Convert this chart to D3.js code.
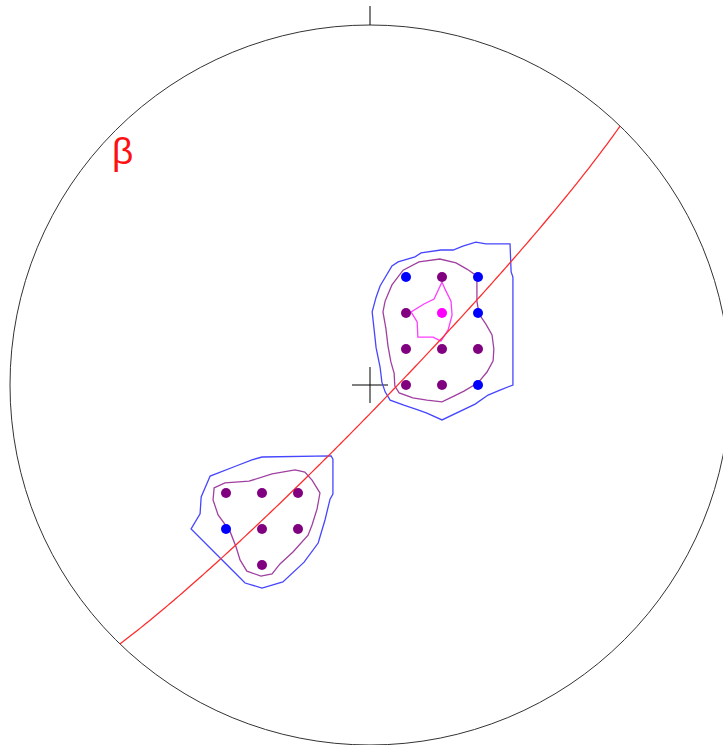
<!DOCTYPE html>
<meta charset="utf-8">
<style>
body { margin: 0; background: #fff; }
.primitive { fill: none; stroke: #333; stroke-width: 1px; }
.tick, .centre { stroke: #000; stroke-width: 1px; }
.beta-line { fill: none; stroke: #ff2a2a; stroke-width: 1.25px; }
.contour { fill: none; stroke-width: 1.3px; }
.beta-label { font: 37px "Liberation Sans", sans-serif; fill: #ff1010; }
</style>
<svg width="723" height="745"></svg>
<script src="https://d3js.org/d3.v7.min.js"></script>
<script>

// net units: 10 = primitive radius, y up
var poles = [
  [1, 3, "low"], [2, 3, "mid"], [3, 3, "low"],
  [1, 2, "mid"], [2, 2, "high"], [3, 2, "low"],
  [1, 1, "mid"], [2, 1, "mid"], [3, 1, "mid"],
  [1, 0, "mid"], [2, 0, "mid"], [3, 0, "low"],
  [-4, -3, "mid"], [-3, -3, "mid"], [-2, -3, "mid"],
  [-4, -4, "low"], [-3, -4, "mid"], [-2, -4, "mid"],
  [-3, -5, "mid"]
];

var contourLow1 = [[2.94,3.97],[3.22,3.92],[3.89,3.92],[3.92,3.14],[3.97,3.00],[3.97,0],[3.61,-0.14],[3.28,-0.28],
  [2.92,-0.53],[2.00,-0.97],[1.58,-0.78],[1.33,-0.69],[0.94,-0.56],[0.56,-0.42],[0.42,-0.19],[0.33,0.08],
  [0.28,0.50],[0.17,1.03],[0.06,2.03],[0.17,2.44],[0.28,2.75],[0.61,3.31],[0.78,3.42],[1.25,3.56],
  [1.42,3.67],[1.97,3.75],[2.31,3.75],[2.58,3.86]];

var contourMid1 = [[2.97,3.03],[2.97,2.33],[3.03,1.97],[3.22,1.69],[3.39,1.39],[3.44,1.00],[3.42,0.67],[3.25,0.36],
  [3.00,0.06],[2.61,-0.17],[2.33,-0.31],[2.00,-0.47],[1.58,-0.42],[1.19,-0.36],[0.81,-0.22],[0.69,-0.03],
  [0.67,0.33],[0.58,0.64],[0.50,1.08],[0.44,1.58],[0.36,2.03],[0.42,2.33],[0.61,2.78],[0.92,3.19],
  [1.36,3.42],[1.94,3.50],[2.39,3.39],[2.69,3.22]];

var contourHigh1 = [[2.00,2.86],[1.78,2.39],[1.50,2.25],[1.14,2.03],[1.31,1.75],[1.33,1.33],[1.75,1.33],[1.97,1.22],
  [2.17,1.53],[2.28,1.94],[2.25,2.33],[2.08,2.67]];

var contourLow2 = [[-3.00,-2.00],[-1.08,-1.97],[-1.03,-2.06],[-1.03,-3.03],[-1.11,-3.17],[-1.25,-3.75],[-1.44,-4.39],
  [-1.83,-4.92],[-2.42,-5.47],[-3.00,-5.64],[-3.47,-5.50],[-3.83,-5.14],[-4.97,-4.00],[-4.72,-3.58],
  [-4.69,-3.11],[-4.44,-2.53],[-3.72,-2.25],[-3.28,-2.08]];

var contourMid2 = [[-4.33,-2.86],[-4.03,-2.72],[-3.36,-2.67],[-2.72,-2.47],[-2.08,-2.36],[-1.81,-2.42],[-1.61,-2.64],
  [-1.39,-3.00],[-1.47,-3.44],[-1.61,-3.89],[-1.72,-4.17],[-2.14,-4.64],[-2.50,-4.97],[-2.72,-5.25],
  [-3.03,-5.31],[-3.42,-5.17],[-3.61,-4.86],[-3.72,-4.50],[-3.89,-4.06],[-4.22,-3.61],[-4.36,-3.19]];

// beta great circle (strike / dip, right hand rule)
var betaPlane = { strike: 44, dip: 85.5 };

var levelColor = { low: "#0000ff", mid: "#800080", high: "#ff00ff" };
var contourColor = { low: "#4646ff", mid: "#a040a0", high: "#ff3cff" };

var svg = d3.select("svg"),
    cx = 370, cy = 385, R = 360;

var x = d3.scaleLinear().domain([-10, 10]).range([cx - R, cx + R]);
var y = d3.scaleLinear().domain([-10, 10]).range([cy + R, cy - R]);

svg.append("circle")
    .attr("class", "primitive")
    .attr("cx", x(0)).attr("cy", y(0))
    .attr("r", x(10) - x(0));

svg.append("line")
    .attr("class", "tick")
    .attr("x1", x(0)).attr("x2", x(0))
    .attr("y1", y(10)).attr("y2", y(10) - 19);

// centre cross
svg.append("line").attr("class", "centre")
    .attr("x1", x(-0.5)).attr("x2", x(0.5)).attr("y1", y(0)).attr("y2", y(0));
svg.append("line").attr("class", "centre")
    .attr("x1", x(0)).attr("x2", x(0)).attr("y1", y(0.5)).attr("y2", y(-0.5));

var contours = [
  [contourLow1, "low"], [contourMid1, "mid"], [contourHigh1, "high"],
  [contourLow2, "low"], [contourMid2, "mid"]
];

var line = d3.line()
    .x(function(d) { return x(d[0]); })
    .y(function(d) { return y(d[1]); })
    .curve(d3.curveLinearClosed);

svg.selectAll("path.contour")
  .data(contours)
  .enter().append("path")
    .attr("class", "contour")
    .attr("stroke", function(d) { return contourColor[d[1]]; })
    .attr("d", function(d) { return line(d[0]); });

// equal-area lower hemisphere projection of the plane
function greatCircle(p) {
  var rad = Math.PI / 180,
      s = p.strike * rad, dd = s + Math.PI / 2, dip = p.dip * rad,
      pts = [];
  for (var t = 0; t <= 180; t += 1) {
    var a = t * rad,
        e = Math.cos(a) * Math.sin(s) + Math.sin(a) * Math.cos(dip) * Math.sin(dd),
        n = Math.cos(a) * Math.cos(s) + Math.sin(a) * Math.cos(dip) * Math.cos(dd),
        dn = Math.sin(a) * Math.sin(dip),
        plunge = Math.asin(Math.max(-1, Math.min(1, dn))),
        trend = Math.atan2(e, n),
        r = 10 * Math.SQRT2 * Math.sin((Math.PI / 2 - plunge) / 2);
    pts.push([r * Math.sin(trend), r * Math.cos(trend)]);
  }
  return pts;
}

svg.append("path")
    .attr("class", "beta-line")
    .attr("d", d3.line()
        .x(function(d) { return x(d[0]); })
        .y(function(d) { return y(d[1]); })(greatCircle(betaPlane)));

svg.selectAll("circle.pole")
  .data(poles)
  .enter().append("circle")
    .attr("class", "pole")
    .attr("cx", function(d) { return x(d[0]); })
    .attr("cy", function(d) { return y(d[1]); })
    .attr("r", 5)
    .attr("fill", function(d) { return levelColor[d[2]]; });

svg.append("text")
    .attr("class", "beta-label")
    .attr("x", x(-7.17))
    .attr("y", y(6.15))
    .text("β");

</script>
